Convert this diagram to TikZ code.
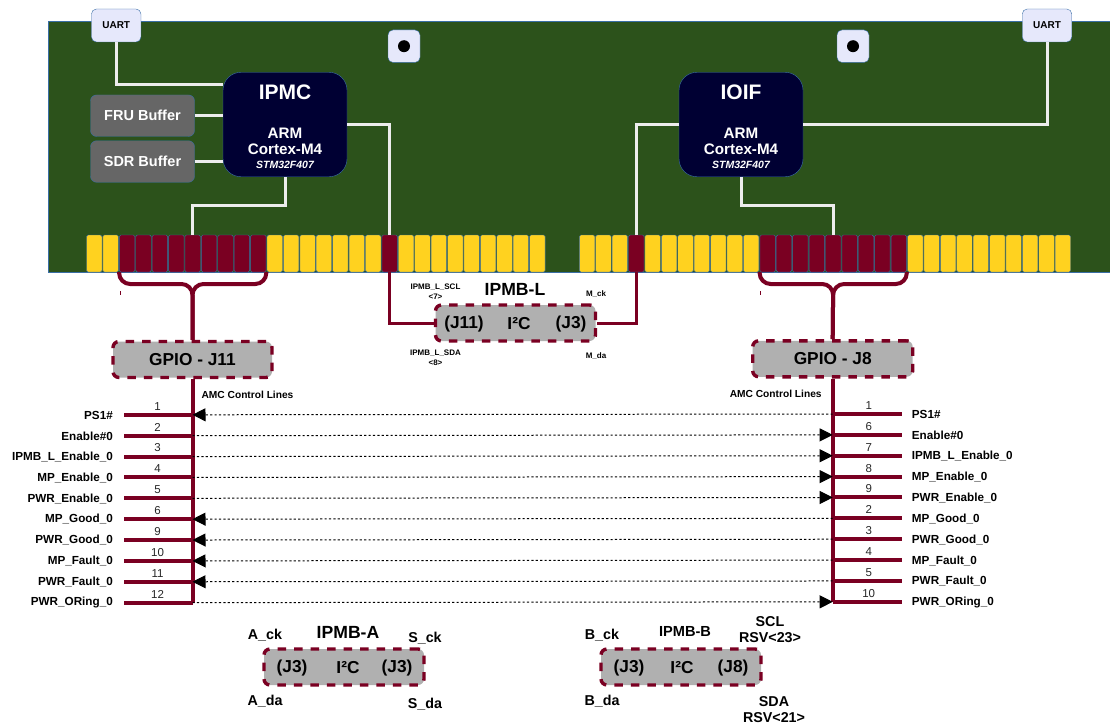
\documentclass[tikz,border=0pt]{standalone}
\usepackage{fontspec}
\setmainfont{Liberation Sans}
\usetikzlibrary{arrows.meta,positioning,calc}
\definecolor{boardgreen}{HTML}{2C521B}
\definecolor{edgeblue}{HTML}{3A6EA5}
\definecolor{maroon}{HTML}{7A0022}
\definecolor{pinyellow}{HTML}{FFD21F}
\definecolor{chipnavy}{HTML}{000033}
\definecolor{pale}{HTML}{E6E8FB}

\begin{document}
\begin{tikzpicture}[x=1pt, y=-1pt, >=Latex,
  board/.style={draw=edgeblue, fill=boardgreen, line width=1pt},
  chip/.style={draw=edgeblue, fill=chipnavy, text=white, rounded corners=18pt, align=center, inner sep=0pt, minimum width=124pt, minimum height=104.5pt, font=\bfseries\fontsize{15.2}{16}\selectfont},
  buffer/.style={draw=edgeblue, fill=black!60, text=white, rounded corners=6pt, inner sep=0pt, minimum width=104pt, minimum height=41.5pt, font=\bfseries\fontsize{14.5}{16}\selectfont},
  pale box/.style={draw=edgeblue, fill=pale, rounded corners=5pt, inner sep=0pt, font=\bfseries\fontsize{10}{12}\selectfont},
  ypin/.style={draw=edgeblue, fill=pinyellow, rounded corners=1.5pt, inner sep=0pt, minimum width=15.5pt, minimum height=37pt},
  rpin/.style={ypin, fill=maroon},
  trace/.style={draw=white!93!black, line width=3pt},
  bus/.style={draw=maroon, line width=4pt},
  signal/.style={draw=maroon, line width=4pt},
  link/.style={draw=black, line width=1pt, dash pattern=on 2.2pt off 2.2pt, -{Triangle[length=13pt,width=13pt]}},
  conn/.style={draw=maroon, dash pattern=on 8.5pt off 8pt, line width=3.4pt, fill=black!31, rounded corners=6pt, inner sep=0pt, minimum height=36pt, minimum width=160pt},
  plain/.style={inner sep=0pt, align=center},
  big/.style={plain, font=\bfseries\fontsize{17.3}{19}\selectfont},
  mid/.style={plain, font=\bfseries\fontsize{14.3}{16}\selectfont},
  sig/.style={plain, font=\bfseries\fontsize{11.7}{13}\selectfont},
  tiny/.style={plain, font=\bfseries\fontsize{8}{10}\selectfont}]
\useasboundingbox (0,0) rectangle (1110,725);

\path[board] (48,22) rectangle (1110,272);
\node[chip] (ipmc) at (285,124.5) {\rule{0pt}{20pt}{\fontsize{21}{22}\selectfont IPMC}\\[23pt]ARM\\Cortex-M4\\[-2pt]{\itshape\fontsize{10.5}{12}\selectfont STM32F407}};
\node[chip] (ioif) at (741,124.5) {\rule{0pt}{20pt}{\fontsize{21}{22}\selectfont IOIF}\\[23pt]ARM\\Cortex-M4\\[-2pt]{\itshape\fontsize{10.5}{12}\selectfont STM32F407}};
\node[buffer] (fru) at (142.5,115.7) {FRU Buffer};
\node[buffer] (sdr) at (142.5,161.5) {SDR Buffer};
\node[pale box, minimum width=49.5pt, minimum height=33pt] (uartL) at (116.2,25.5) {UART};
\node[pale box, minimum width=49.5pt, minimum height=33pt] (uartR) at (1047,25.5) {UART};
\node[pale box, minimum width=32pt, minimum height=32.5pt] (holeL) at (404,46.2) {};
\node[pale box, minimum width=32pt, minimum height=32.5pt] (holeR) at (853,46.2) {};
\fill (holeL.center) circle (6pt) (holeR.center) circle (6pt);

% connector pins along the lower edge
\foreach \a/\b/\s in {1/2/ypin,3/11/rpin,12/18/ypin,19/19/rpin,20/28/ypin}
  \foreach \n in {\a,...,\b} \node[\s] (L\n) at ({94.25+16.41*(\n-1)},253.5) {};
\foreach \a/\b/\s in {1/3/ypin,4/4/rpin,5/11/ypin,12/20/rpin,21/30/ypin}
  \foreach \n in {\a,...,\b} \node[\s] (R\n) at ({587.05+16.41*(\n-1)},253.5) {};

\coordinate (uartLend) at (223,84.5);
\coordinate (ipmcturn) at (285,205);
\coordinate (ioifturn) at (741,205);
\draw[trace] (uartL.south) |- (uartLend);
\draw[trace] (fru.east) -- (fru.east -| ipmc.west);
\draw[trace] (sdr.east) -- (sdr.east -| ipmc.west);
\draw[trace] (ipmc.east) -| (L19.north);
\draw[trace] (ipmc.south) -- (ipmcturn) -| (L7.north);
\draw[trace] (ioif.west) -| (R4.north);
\draw[trace] (ioif.south) -- (ioifturn) -| (R16.north);
\draw[trace] (ioif.east) -| (uartR.south);

\node[conn, minimum width=159pt] (gpioL) at (192.5,359.5) {};
\node[big] (gpioLtext) at (gpioL.center) {GPIO - J11};
\node[conn, minimum width=160pt] (gpioR) at (832.7,358.8) {};
\node[big] (gpioRtext) at (gpioR.center) {GPIO - J8};
\coordinate (braceL) at (192.5,284);
\coordinate (braceR) at (833.2,284);
\draw[bus, rounded corners=11pt] (L3.south west) |- (braceL) -- (gpioL.north);
\draw[bus, rounded corners=11pt] (L11.south east) |- (braceL) -- (gpioL.north);
\draw[bus, rounded corners=11pt] (R12.south west) |- (braceR) -- (gpioR.north);
\draw[bus, rounded corners=11pt] (R20.south east) |- (braceR) -- (gpioR.north);
\node[fill=maroon, inner sep=0pt, minimum width=1pt, minimum height=4pt] (tickL) at (120.5,293) {};
\node[fill=maroon, inner sep=0pt, minimum width=1pt, minimum height=4pt] (tickR) at (760.5,292.5) {};

% IPMB-L
\node[conn] (ipmbL) at (515.5,323) {};
\node[big] (ipmbLa) at (464,324) {(J11)};
\node[big] (ipmbLb) at (519,324) {I²C};
\node[big] (ipmbLc) at (571,324) {(J3)};
\node[big, font=\bfseries\fontsize{17.6}{19}\selectfont] (ipmbLt) at (515,289) {IPMB-L};
\node[tiny] (lscl) at (435.5,291.5) {IPMB\_L\_SCL\\<7>};
\node[tiny] (lsda) at (435.5,357.5) {IPMB\_L\_SDA\\<8>};
\node[tiny] (mck) at (596,294.5) {M\_ck};
\node[tiny] (mda) at (596,356) {M\_da};
\draw[bus, line width=3pt] (L19.south) |- (ipmbL.west);
\draw[bus, line width=3pt] (R4.south) |- (ipmbL.east);

% control lines
\node[tiny, font=\bfseries\fontsize{10.2}{12}\selectfont] (amcL) at (247.5,395) {AMC Control Lines};
\node[tiny, font=\bfseries\fontsize{10.2}{12}\selectfont] (amcR) at (775.7,394) {AMC Control Lines};
\foreach \n/\t/\u/\v in {1/PS1\#/1/1, 2/Enable\#0/2/6, 3/IPMB\_L\_Enable\_0/3/7, 4/MP\_Enable\_0/4/8, 5/PWR\_Enable\_0/5/9, 6/MP\_Good\_0/6/2, 7/PWR\_Good\_0/9/3, 8/MP\_Fault\_0/10/4, 9/PWR\_Fault\_0/11/5, 10/PWR\_ORing\_0/12/10}{
  \coordinate (busL\n) at (192.5,{414.8+20.87*(\n-1)});
  \coordinate (busR\n) at (832.7,{414+20.87*(\n-1)});
  \coordinate (stubL\n) at (124,{414.8+20.87*(\n-1)});
  \coordinate (stubR\n) at (902,{414+20.87*(\n-1)});
  \node[sig, anchor=east] (nameL\n) at (113,{415+20.87*(\n-1)}) {\t};
  \node[sig, anchor=west] (nameR\n) at (911.7,{414.5+20.87*(\n-1)}) {\t};
  \draw[signal] (stubL\n) -- node[above=2.5pt, plain, text=black!85, font=\fontsize{11.5}{13}\selectfont, pos=0.49] (numL\n) {\u} (busL\n);
  \draw[signal] (busR\n) -- node[above=2.5pt, plain, text=black!85, font=\fontsize{11.5}{13}\selectfont, pos=0.52] (numR\n) {\v} (stubR\n);
}
\draw[bus] (gpioL.south) -- (busL10);
\draw[bus] (gpioR.south) -- (busR10);
\foreach \n in {1,6,7,8,9} \draw[link] (busR\n) -- (busL\n);
\foreach \n in {2,3,4,5,10} \draw[link] (busL\n) -- (busR\n);

% IPMB-A and IPMB-B
\node[conn] (ipmbA) at (344,667) {};
\node[big] (ipmbAa) at (292,668) {(J3)};
\node[big] (ipmbAb) at (348,668) {I²C};
\node[big] (ipmbAc) at (397,668) {(J3)};
\node[big, font=\bfseries\fontsize{17.6}{19}\selectfont] (ipmbAt) at (348,632) {IPMB-A};
\node[mid] (ack) at (265,635) {A\_ck};
\node[mid] (sck) at (425,638) {S\_ck};
\node[mid] (ada) at (265,701) {A\_da};
\node[mid] (sda) at (425,704) {S\_da};
\node[conn] (ipmbB) at (681,667) {};
\node[big] (ipmbBa) at (629,668) {(J3)};
\node[big] (ipmbBb) at (682,668) {I²C};
\node[big] (ipmbBc) at (733,668) {(J8)};
\node[big, font=\bfseries\fontsize{14.6}{16}\selectfont] (ipmbBt) at (685,631) {IPMB-B};
\node[mid] (bck) at (602,635) {B\_ck};
\node[mid] (bda) at (602,701) {B\_da};
\node[mid] (rscl) at (770,629.5) {SCL\\RSV<23>};
\node[mid] (rsda) at (774,710) {SDA\\RSV<21>};
\end{tikzpicture}
\end{document}
